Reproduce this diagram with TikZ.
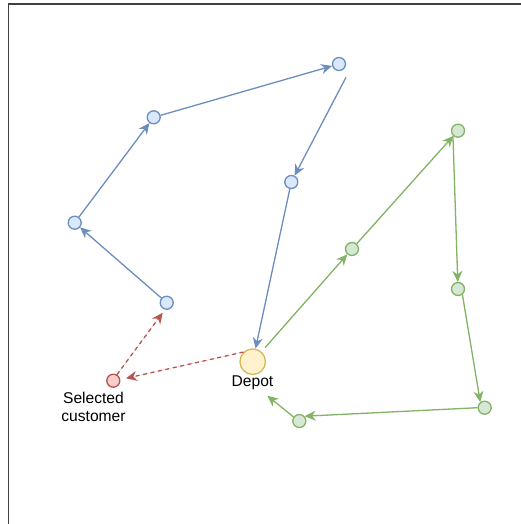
\documentclass[tikz,border=0pt]{standalone}
\usepackage{fontspec}
\setmainfont{Liberation Sans}
\usetikzlibrary{arrows.meta}
\definecolor{bstroke}{HTML}{6C8EBF}
\definecolor{bfill}{HTML}{DAE8FC}
\definecolor{gstroke}{HTML}{82B366}
\definecolor{gfill}{HTML}{D5E8D4}
\definecolor{rstroke}{HTML}{B85450}
\definecolor{rfill}{HTML}{F8CECC}
\definecolor{ystroke}{HTML}{D6B656}
\definecolor{yfill}{HTML}{FFF2CC}
\tikzset{
  pt/.style={circle, inner sep=0pt, minimum size=13pt, line width=1.3pt},
  bnode/.style={pt, draw=bstroke, fill=bfill},
  gnode/.style={pt, draw=gstroke, fill=gfill},
  rnode/.style={pt, draw=rstroke, fill=rfill},
  depotnode/.style={circle, inner sep=0pt, minimum size=25.5pt, line width=1.3pt, draw=ystroke, fill=yfill},
  tip/.style={-{Stealth[length=11pt,width=10pt,inset=3.5pt]}},
  bedge/.style={tip, draw=bstroke, fill=bstroke, line width=1.3pt},
  gedge/.style={tip, draw=gstroke, fill=gstroke, line width=1.3pt},
  redge/.style={tip, draw=rstroke, fill=rstroke, line width=1.3pt, dash pattern=on 4pt off 3.6pt},
  lbl/.style={font=\fontsize{15.6}{18}\selectfont, inner sep=0pt, align=center},
  frame/.style={draw=black!75, line width=1.6pt}
}
\begin{document}
\begin{tikzpicture}[x=1pt,y=-1pt]
\useasboundingbox (0,0) rectangle (521,524);
\begin{scope}
\clip (0,0) rectangle (521,524);
\draw[frame] (8.3,4) rectangle (600,600);
\end{scope}
% blue route
\node[bnode] (B1) at (339,64) {};
\node[bnode] (B2) at (291.3,182) {};
\node[bnode] (B3) at (153.7,117.3) {};
\node[bnode] (B4) at (74.7,222.7) {};
\node[bnode] (B5) at (166.7,302.7) {};
% depot and selected
\node[depotnode] (D) at (252.7,361.7) {};
\node[rnode] (S) at (113.3,380.7) {};
% green route
\node[gnode] (G1) at (352,249) {};
\node[gnode] (G2) at (458,130.7) {};
\node[gnode] (G3) at (458,289) {};
\node[gnode] (G4) at (484.7,407.7) {};
\node[gnode] (G5) at (299.3,421) {};
% labels
\node[lbl, anchor=base] (Dl) at (252.5,386.7) {Depot};
\node[lbl, anchor=north] (Sl) at (93.5,391.5) {Selected\\customer};
% free points
\coordinate (b1s) at (346,77.3);
\coordinate (g5e) at (267.3,395.7);
\coordinate (sce) at (126,378.3);
\coordinate (b5e) at (162.7,312.7);
% blue edges
\draw[bedge] (B5) -- (B4);
\draw[bedge] (B4) -- (B3);
\draw[bedge] (B3) -- (B1);
\draw[bedge] (b1s) -- (B2);
\draw[bedge] (B2) -- (D);
% green edges
\draw[gedge, shorten <=5.5pt] (D) -- (G1);
\draw[gedge] (G1) -- (G2);
\draw[gedge] (G2.225) -- (G3);
\draw[gedge] (G3.-52) -- (G4.128);
\draw[gedge] (G4.180) -- (G5.42);
\draw[gedge] (G5.145) -- (g5e);
% red dashed edges
\draw[redge] (D.134) -- (sce);
\draw[redge] (S.59) -- (b5e);
\end{tikzpicture}
\end{document}
